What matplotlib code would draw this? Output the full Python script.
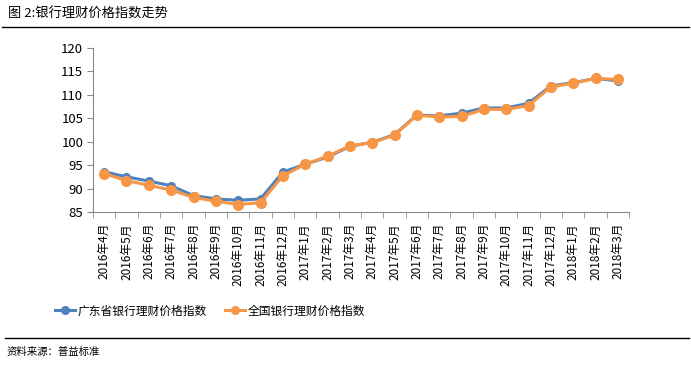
import numpy as np
import matplotlib.pyplot as plt
from matplotlib.lines import Line2D

plt.rcParams['font.family'] = ['Noto Sans CJK SC', 'DejaVu Sans']

months = ['2016年4月', '2016年5月', '2016年6月', '2016年7月', '2016年8月', '2016年9月',
          '2016年10月', '2016年11月', '2016年12月', '2017年1月', '2017年2月', '2017年3月',
          '2017年4月', '2017年5月', '2017年6月', '2017年7月', '2017年8月', '2017年9月',
          '2017年10月', '2017年11月', '2017年12月', '2018年1月', '2018年2月', '2018年3月']
guangdong = [93.6, 92.5, 91.6, 90.6, 88.5, 87.8, 87.5, 87.8, 93.5, 95.2, 96.7, 99.0,
             99.9, 101.5, 105.7, 105.5, 106.1, 107.2, 107.2, 108.2, 111.9, 112.6, 113.5, 113.0]
national = [93.2, 91.7, 90.7, 89.7, 88.1, 87.3, 86.6, 87.0, 92.7, 95.2, 96.9, 99.1,
            99.8, 101.4, 105.6, 105.3, 105.4, 106.9, 106.9, 107.7, 111.7, 112.5, 113.5, 113.3]

blue = '#4F81BD'
orange = '#F79646'

fig = plt.figure(figsize=(6.91, 3.67), dpi=100)
ax = fig.add_axes([93/691, 1-212/367, (629-93)/691, (212-48)/367])

x = np.arange(len(months))
ax.plot(x, guangdong, color=blue, lw=2.2, marker='o', ms=5.5, zorder=3)
ax.plot(x, national, color=orange, lw=2.2, marker='o', ms=7, zorder=4)

ax.set_xlim(-0.5, len(months) - 0.5)
ax.set_ylim(85, 120)
ax.set_yticks(np.arange(85, 121, 5))
ax.set_xticks(x)
ax.set_xticklabels(months, rotation=90, fontsize=8.5)
ax.set_xticks(np.arange(-0.5, len(months), 1), minor=True)
ax.tick_params(axis='x', which='major', length=0, pad=8)
ax.tick_params(axis='x', which='minor', length=4, color='#898989')
ax.tick_params(axis='y', length=4, color='#898989', labelsize=9.5, pad=3)
for s in ['top', 'right']:
    ax.spines[s].set_visible(False)
for s in ['left', 'bottom']:
    ax.spines[s].set_color('#898989')

# legend
handles = [Line2D([], [], color=blue, lw=2.2, marker='o', ms=5.5),
           Line2D([], [], color=orange, lw=2.2, marker='o', ms=5.5)]
fig.legend(handles, ['广东省银行理财价格指数', '全国银行理财价格指数'],
           loc='center', bbox_to_anchor=(210/691, 1-311/367), ncol=2, frameon=False,
           fontsize=8.5, handlelength=1.7, handletextpad=0.2, columnspacing=1.6)

# title, rules, source
fig.text(8/691, 1-14/367, '图 2:银行理财价格指数走势', fontsize=9.5, va='center', ha='left')
fig.add_artist(Line2D([2/691, 689/691], [1-27/367, 1-27/367], color='black', lw=1))
fig.add_artist(Line2D([5/691, 689/691], [1-338/367, 1-338/367], color='black', lw=1))
fig.text(7/691, 1-352/367, '资料来源：普益标准', fontsize=7.5, va='center', ha='left')

fig.savefig('out.png', dpi=100)
